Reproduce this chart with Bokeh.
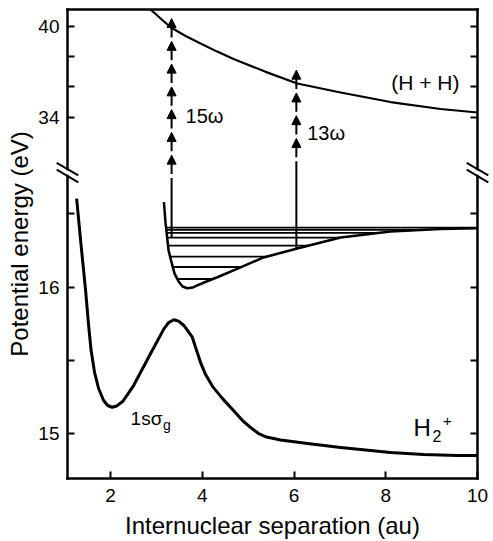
import numpy as np
from bokeh.plotting import figure
from bokeh.models import (Range1d, FixedTicker, CustomJSTickFormatter, LinearAxis,
                          ColumnDataSource, Arrow, NormalHead)
from bokeh.core.properties import value
from bokeh.embed import file_html
from bokeh.resources import INLINE

FONT = "Liberation Sans"

# ---------------------------------------------------------------- data
# 1sσg potential curve (lower panel); R in au, energy in eV
ground_r = [1.259, 1.357, 1.455, 1.520, 1.575, 1.651, 1.738, 1.847, 1.935, 2.033,
            2.131, 2.262, 2.501, 2.872, 3.162, 3.264, 3.380, 3.482, 3.598, 3.781,
            3.875, 3.962, 4.071, 4.224, 4.441, 4.659, 4.877, 5.052, 5.226, 5.401,
            5.706, 6.294, 7.014, 8.104, 8.823, 9.564, 10.0]
ground_e = [16.605, 16.284, 15.977, 15.739, 15.568, 15.418, 15.309, 15.227, 15.193, 15.181,
            15.190, 15.220, 15.329, 15.548, 15.716, 15.759, 15.778, 15.769, 15.739, 15.659,
            15.568, 15.486, 15.404, 15.322, 15.240, 15.165, 15.090, 15.043, 15.002, 14.978,
            14.958, 14.934, 14.907, 14.872, 14.859, 14.852, 14.852]

# bound well holding the vibrational levels
well_r = [3.162, 3.199, 3.264, 3.330, 3.395, 3.482, 3.570, 3.672, 3.788, 3.890,
          4.093, 4.326, 4.834, 5.335, 6.070, 7.014, 8.104, 9.194, 10.0]
well_e = [16.580, 16.435, 16.250, 16.168, 16.093, 16.039, 16.005, 15.993, 15.998, 16.012,
          16.039, 16.068, 16.136, 16.203, 16.264, 16.339, 16.380, 16.397, 16.402]

# vibrational levels (eV)
level_e = [16.407, 16.391, 16.371, 16.338, 16.284, 16.209, 16.138, 16.056]

# (H + H) curve in the upper panel
hh_r = [2.872, 3.090, 3.308, 3.635, 3.962, 4.311, 4.681, 5.379, 6.070, 7.014,
        8.104, 9.194, 10.0]
hh_e = [41.10, 40.51, 39.93, 39.35, 38.86, 38.34, 37.84, 36.99, 36.22, 35.63,
        35.00, 34.54, 34.31]

# multiphoton ladders: position, launch energy and arrow-tip energies
ladder_r = [3.33, 6.05]
ladder_start_e = [16.34, 16.26]
ladder_tips = [[40.5, 39.0, 37.5, 36.0, 34.5, 33.0, 31.5],
               [37.1, 35.6, 34.1, 32.6]]

# annotations
label_text = ["15ω", "13ω", "(H + H)", "1sσ", "g", "H", "2", "+"]
label_r = [3.635, 6.287, 8.119, 2.436, 3.144, 8.605, 9.02, 9.25]
label_e = [34.08, 32.96, 36.31, 15.106, 15.057, 15.040, 14.982, 15.085]
label_size = ["20px", "20px", "21px", "19px", "14px", "24px", "16px", "15px"]

# ticks
x_ticks = [2, 4, 6, 8, 10]
y_ticks = [15, 15.5, 16, 16.5, 34, 36, 38, 40]
y_tick_labels = ["15", "", "16", "", "34", "", "", "40"]

# ---------------------------------------------------------------- broken energy axis
UPPER_FROM = 20.0     # energies above this are drawn in the compressed upper panel
UPPER_REF = 34.0
UPPER_POS = 17.16     # axis position of 34 eV
UPPER_SCALE = 0.1035  # axis units per eV in the upper panel


def disp(e):
    e = np.asarray(e, dtype=float)
    return np.where(e > UPPER_FROM, UPPER_POS + (e - UPPER_REF) * UPPER_SCALE, e)


X0, X1 = 1.06, 10.0
Y0, Y1 = 14.695, float(disp(41.1))
BREAK_LO, BREAK_HI = 16.759, 16.806   # where the axis lines are cut

p = figure(width=493, height=541, output_backend="svg", toolbar_location=None,
           x_range=Range1d(X0, X1), y_range=Range1d(Y0, Y1),
           min_border_left=67, min_border_right=16, min_border_top=9,
           min_border_bottom=63)
p.background_fill_color = "white"
p.border_fill_color = "white"
p.outline_line_color = None
p.xgrid.visible = False
p.ygrid.visible = False

y_tick_pos = [float(v) for v in disp(y_ticks)]


def style_axis(ax):
    ax.axis_line_color = None
    ax.major_tick_in = 7
    ax.major_tick_out = 0
    ax.major_tick_line_width = 2
    ax.major_tick_line_color = "black"
    ax.minor_tick_line_color = None
    ax.major_label_text_font = FONT
    ax.major_label_text_font_size = "19px"
    ax.major_label_text_color = "black"
    ax.major_label_standoff = 8
    ax.axis_label_text_font = FONT
    ax.axis_label_text_font_size = "24px"
    ax.axis_label_text_font_style = "normal"
    ax.axis_label_text_color = "black"


xa = p.xaxis[0]
xa.ticker = FixedTicker(ticks=x_ticks)
xa.axis_label = "Internuclear separation (au)"
style_axis(xa)
xa.major_label_standoff = 10
xa.axis_label_standoff = 7

ya = p.yaxis[0]
ya.ticker = FixedTicker(ticks=y_tick_pos)
ya.formatter = CustomJSTickFormatter(
    args=dict(tick_pos=y_tick_pos, tick_text=y_tick_labels),
    code="""
    for (let i = 0; i < tick_pos.length; i++) {
        if (Math.abs(tick_pos[i] - tick) < 1e-6) { return tick_text[i] }
    }
    return ""
    """)
ya.axis_label = "Potential energy (eV)"
style_axis(ya)
ya.major_label_standoff = 8
ya.axis_label_standoff = 2

ra = LinearAxis(ticker=FixedTicker(ticks=y_tick_pos),
                formatter=CustomJSTickFormatter(code="return ''"))
style_axis(ra)
p.add_layout(ra, "right")

# frame, interrupted on both sides at the axis break
fx0 = [X0, X0, X0, X0, X1, X1]
fy0 = [Y0, Y1, Y0, BREAK_HI, Y0, BREAK_HI]
fx1 = [X1, X1, X0, X0, X1, X1]
fy1 = [Y0, Y1, BREAK_LO, Y1, BREAK_LO, Y1]
p.segment(x0=fx0, y0=fy0, x1=fx1, y1=fy1, line_color="black", line_width=2.5,
          line_cap="square", level="overlay")

# break marks
p.scatter(x=[X0, X0, X1, X1], y=[BREAK_HI, BREAK_LO, BREAK_HI, BREAK_LO],
          marker="dash", size=25, angle=-0.53, line_color="black", line_width=2,
          level="overlay")

# potential curves
p.line(ground_r, disp(ground_e), line_color="black", line_width=3, line_join="round")
p.line(well_r, disp(well_e), line_color="black", line_width=2.5, line_join="round")
p.line(hh_r, disp(hh_e), line_color="black", line_width=2.2, line_join="round")

# vibrational levels, bounded by the walls of the well
wr = np.array(well_r)
we = np.array(well_e)
imin = int(np.argmin(we))
left_e, left_r = we[:imin + 1][::-1], wr[:imin + 1][::-1]
right_e, right_r = we[imin:], wr[imin:]
lev = np.array(level_e)
lev_x0 = np.interp(lev, left_e, left_r)
lev_x1 = np.interp(lev, right_e, right_r, right=X1)
p.segment(x0=lev_x0, y0=disp(lev), x1=lev_x1, y1=disp(lev),
          line_color="black", line_width=1.8)

# photon ladders: solid launch line, then dashes each ending in an arrowhead
GAP = 0.26
sx, sy0, sy1 = [], [], []
ax0, ay0, ax1, ay1 = [], [], [], []
for r, start, tips in zip(ladder_r, ladder_start_e, ladder_tips):
    tips = sorted(tips, reverse=True)
    step = float(np.mean(-np.diff(tips)))
    sx.append(r)
    sy0.append(float(disp(start)))
    sy1.append(float(disp(tips[-1] - step)))
    for t in tips:
        ax0.append(r)
        ay0.append(float(disp(t - step + GAP)))
        ax1.append(r)
        ay1.append(float(disp(t)))

p.segment(x0=sx, y0=sy0, x1=sx, y1=sy1, line_color="black", line_width=2)
arrow_src = ColumnDataSource(dict(x0=ax0, y0=ay0, x1=ax1, y1=ay1))
p.add_layout(Arrow(x_start="x0", y_start="y0", x_end="x1", y_end="y1",
                   source=arrow_src, line_color="black", line_width=2,
                   end=NormalHead(size=9, fill_color="black", line_color="black",
                                  line_width=1)))

# annotations
lab_src = ColumnDataSource(dict(x=label_r, y=[float(v) for v in disp(label_e)],
                                text=label_text, size=label_size))
p.text(x="x", y="y", text="text", source=lab_src, text_font=value(FONT),
       text_font_size="size", text_align="left", text_baseline="middle",
       text_color="black")

open("out.html", "w").write(file_html(p, INLINE))
